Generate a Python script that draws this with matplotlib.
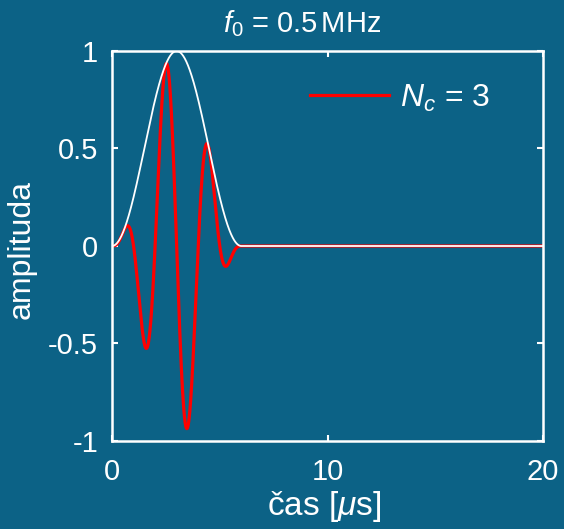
import numpy as np
import matplotlib.pyplot as plt

plt.rcParams['font.family'] = ['Liberation Sans', 'DejaVu Sans']
plt.rcParams['mathtext.fontset'] = 'custom'
plt.rcParams['mathtext.rm'] = 'Liberation Sans'
plt.rcParams['mathtext.it'] = 'Liberation Sans:italic'

# burst parameters (MHz, number of cycles)
f0 = 0.5
n_cycles = 3
t_end = 20.0
x_ticks = [0, 10, 20]
y_ticks = [-1, -0.5, 0, 0.5, 1]
y_tick_labels = ['-1', '-0.5', '0', '0.5', '1']

bg = '#0c6286'
fg = 'white'

# Hann-windowed sine burst
t = np.linspace(0, t_end, 4001)
duration = n_cycles / f0
window = np.where(t <= duration, 0.5 * (1 - np.cos(2 * np.pi * t / duration)), 0.0)
signal = window * np.sin(2 * np.pi * f0 * t)

fig = plt.figure(figsize=(5.64, 5.29), dpi=100, facecolor=bg)
ax = fig.add_axes([112 / 564, 1 - 441 / 529, 431 / 564, 390 / 529], facecolor=bg)

ax.plot(t, signal, color='red', lw=2.3, label=r'$N_c$ = 3')
ax.plot(t, window, color=fg, lw=1.3)

ax.set_xlim(0, t_end)
ax.set_ylim(-1, 1)
ax.set_xticks(x_ticks)
ax.set_yticks(y_ticks)
ax.set_yticklabels(y_tick_labels)
ax.tick_params(direction='in', length=4, width=1.5, colors=fg, labelsize=21,
               top=True, right=True)
ax.tick_params(axis='x', pad=12)
ax.tick_params(axis='y', pad=10)
for s in ax.spines.values():
    s.set_color(fg)
    s.set_linewidth(1.8)

# title and axis labels
ax.text(0.441, 1.0487, r'$f_0$ = 0.5$\,$MHz', color=fg, fontsize=21,
        ha='center', va='baseline', transform=ax.transAxes)
ax.text(0.492, -0.19, r'čas [$\mu$s]', color=fg, fontsize=24,
        ha='center', va='baseline', transform=ax.transAxes)
ax.text(-0.209, 0.49, 'amplituda', color=fg, fontsize=23, rotation=90,
        ha='center', va='center', transform=ax.transAxes)

leg = ax.legend(loc='center left', frameon=False, fontsize=23, handlelength=2.47,
                handletextpad=0.34, borderpad=0, borderaxespad=0,
                bbox_to_anchor=(0.459, 0.879))
for txt in leg.get_texts():
    txt.set_color(fg)

fig.savefig('out.png', dpi=100, facecolor=bg)
